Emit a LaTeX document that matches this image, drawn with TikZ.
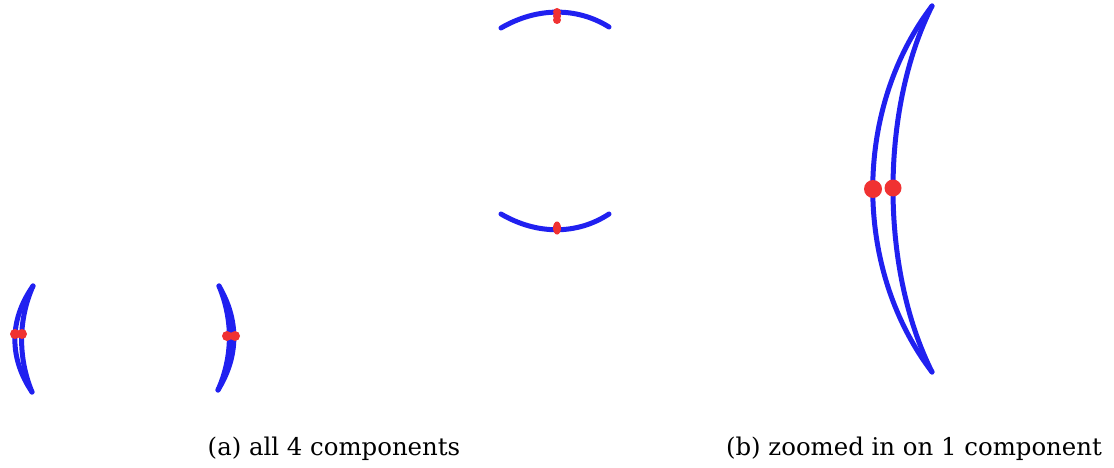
\documentclass[tikz,border=0pt]{standalone}
\usepackage{fontspec}
\setmainfont{DejaVu Serif}
\definecolor{arcblue}{RGB}{32,32,240}
\definecolor{dotred}{RGB}{240,50,50}
\begin{document}
\begin{tikzpicture}[x=1pt,y=-1pt,
  bluearc/.style={draw=arcblue,line width=5pt,line cap=round},
  reddot/.style={fill=dotred},
  captext/.style={font=\fontsize{24.4}{28}\selectfont,anchor=base}]
\useasboundingbox (0,0) rectangle (1114,468);
% top arc
\draw[bluearc] (501,28) .. controls (537,7) and (577,7) .. (609,27);
\fill[reddot] (557,12) circle (4) (557,20) circle (4) (557,16) ellipse (4 and 5);
% second arc
\draw[bluearc] (501,214) .. controls (537,235) and (577,235) .. (609,214);
\fill[reddot] (557,228) ellipse (4 and 6.5);
% left arc (two strands)
\draw[bluearc] (33,286) .. controls (9,320) and (9,358) .. (32,392);
\draw[bluearc] (33,286) .. controls (18,320) and (18,358) .. (32,392);
\fill[reddot] (15,334) circle (5) (22,334) circle (5);
% second left arc
\draw[bluearc] (219,286) .. controls (233,320) and (233,356) .. (218,390);
\draw[bluearc] (219,286) .. controls (239,320) and (239,356) .. (218,390);
\fill[reddot] (227,336) circle (5) (235,336) circle (5);
% zoomed component
\draw[bluearc] (932,6) .. controls (853,110) and (853,268) .. (932,372);
\draw[bluearc] (932,6) .. controls (880,110) and (880,268) .. (932,372);
\fill[reddot] (873,189) circle (9) (893,188) circle (8.5);
% captions
\node[captext] (capa) at (334,455) {(a) all 4 components};
\node[captext] (capb) at (914,455) {(b) zoomed in on 1 component};
\end{tikzpicture}
\end{document}
